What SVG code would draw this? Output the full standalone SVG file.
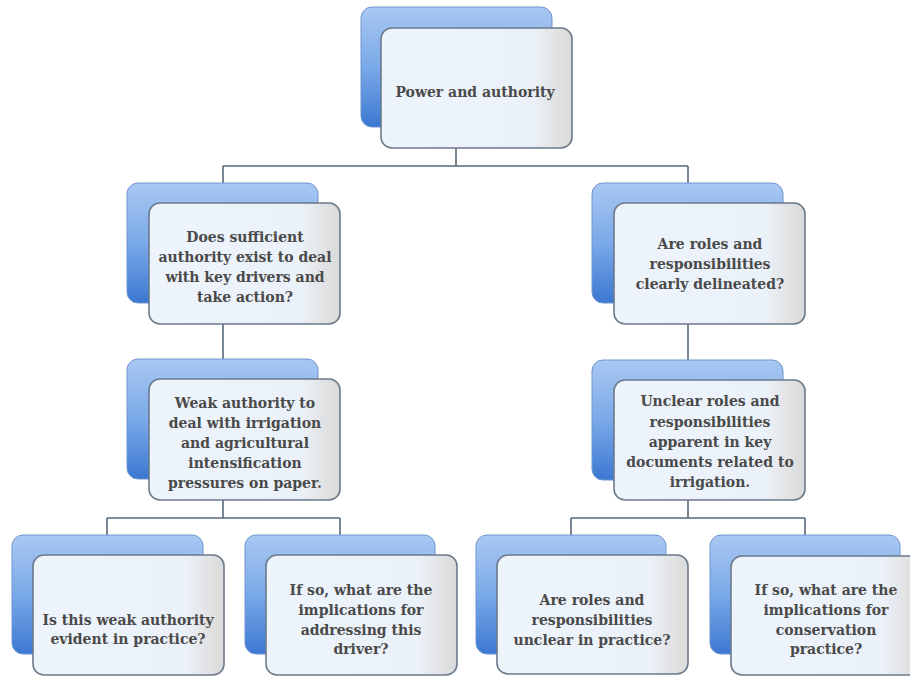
<svg xmlns="http://www.w3.org/2000/svg" width="910" height="677" viewBox="0 0 910 677">
<style>
.back{fill:url(#gb);stroke:#6f95cf;stroke-width:1}
.front{fill:url(#gf);stroke:#6b7a8a;stroke-width:1.6}
.t{font-family:'DejaVu Serif','Liberation Serif',serif;font-size:14px;font-weight:bold;fill:#4a4a4a;text-anchor:middle}
.c{fill:none;stroke:#56687a;stroke-width:1.6}
</style>
<defs>
<linearGradient id="gb" x1="0" y1="0" x2="0" y2="1">
<stop offset="0" stop-color="#a9c8f2"/>
<stop offset="0.5" stop-color="#7aa9e8"/>
<stop offset="1" stop-color="#3b78d2"/>
</linearGradient>
<linearGradient id="gf" x1="0" y1="0" x2="1" y2="0">
<stop offset="0" stop-color="#eef4fc"/>
<stop offset="0.8" stop-color="#ebf1f8"/>
<stop offset="0.9" stop-color="#e3e4e6"/>
<stop offset="1" stop-color="#dadada"/>
</linearGradient>
</defs>
<rect width="910" height="677" fill="#ffffff"/>
<g id="connectors">
<path class="c" d="M456,148 V166 M223,166 H688 M223,166 V183 M688,166 V183"/>
<path class="c" d="M223,324 V359 M688,324 V360"/>
<path class="c" d="M223,500 V518 M107,518 H340 M107,518 V535 M340,518 V535"/>
<path class="c" d="M688,500 V518 M571,518 H805 M571,518 V535 M805,518 V535"/>
</g>
<g id="n0">
<rect class="back" x="361" y="7" width="191" height="120" rx="11"/>
<rect class="front" x="381" y="28" width="191" height="120" rx="11"/>
<text class="t" x="475" y="97" font-size="15">Power and authority</text>
</g>
<g id="n1">
<rect class="back" x="127" y="183" width="191" height="120" rx="11"/>
<rect class="front" x="149" y="203" width="191" height="121" rx="11"/>
<text class="t" x="245" y="242">Does sufficient</text>
<text class="t" x="245" y="262">authority exist to deal</text>
<text class="t" x="245" y="282">with key drivers and</text>
<text class="t" x="245" y="302">take action?</text>
</g>
<g id="n2">
<rect class="back" x="592" y="183" width="191" height="120" rx="11"/>
<rect class="front" x="614" y="203" width="191" height="121" rx="11"/>
<text class="t" x="710" y="249">Are roles and</text>
<text class="t" x="710" y="269">responsibilities</text>
<text class="t" x="710" y="288.5">clearly delineated?</text>
</g>
<g id="n3">
<rect class="back" x="127" y="359" width="191" height="120" rx="11"/>
<rect class="front" x="149" y="379" width="191" height="121" rx="11"/>
<text class="t" x="245" y="408">Weak authority to</text>
<text class="t" x="245" y="428">deal with irrigation</text>
<text class="t" x="245" y="448">and agricultural</text>
<text class="t" x="245" y="468">intensification</text>
<text class="t" x="245" y="488">pressures on paper.</text>
</g>
<g id="n4">
<rect class="back" x="592" y="360" width="191" height="120" rx="11"/>
<rect class="front" x="614" y="380" width="191" height="120" rx="11"/>
<text class="t" x="710" y="405.5">Unclear roles and</text>
<text class="t" x="710" y="426.5">responsibilities</text>
<text class="t" x="710" y="446.5">apparent in key</text>
<text class="t" x="710" y="466.5">documents related to</text>
<text class="t" x="710" y="486.5">irrigation.</text>
</g>
<g id="n5">
<rect class="back" x="12" y="535" width="191" height="119" rx="11"/>
<rect class="front" x="33" y="555" width="191" height="120" rx="11"/>
<text class="t" x="128" y="625">Is this weak authority</text>
<text class="t" x="128" y="643.5">evident in practice?</text>
</g>
<g id="n6">
<rect class="back" x="245" y="535" width="190" height="119" rx="11"/>
<rect class="front" x="266" y="555" width="191" height="120" rx="11"/>
<text class="t" x="361" y="595">If so, what are the</text>
<text class="t" x="361" y="615">implications for</text>
<text class="t" x="361" y="635">addressing this</text>
<text class="t" x="361" y="653.5">driver?</text>
</g>
<g id="n7">
<rect class="back" x="476" y="535" width="190" height="119" rx="11"/>
<rect class="front" x="497" y="555" width="191" height="119" rx="11"/>
<text class="t" x="592" y="605">Are roles and</text>
<text class="t" x="592" y="625">responsibilities</text>
<text class="t" x="592" y="645">unclear in practice?</text>
</g>
<g id="n8">
<rect class="back" x="710" y="535" width="190" height="119" rx="11"/>
<rect class="front" x="731" y="556" width="191" height="119" rx="11"/>
<text class="t" x="826" y="595">If so, what are the</text>
<text class="t" x="826" y="615">implications for</text>
<text class="t" x="826" y="635">conservation</text>
<text class="t" x="826" y="653.5">practice?</text>
</g>
</svg>
